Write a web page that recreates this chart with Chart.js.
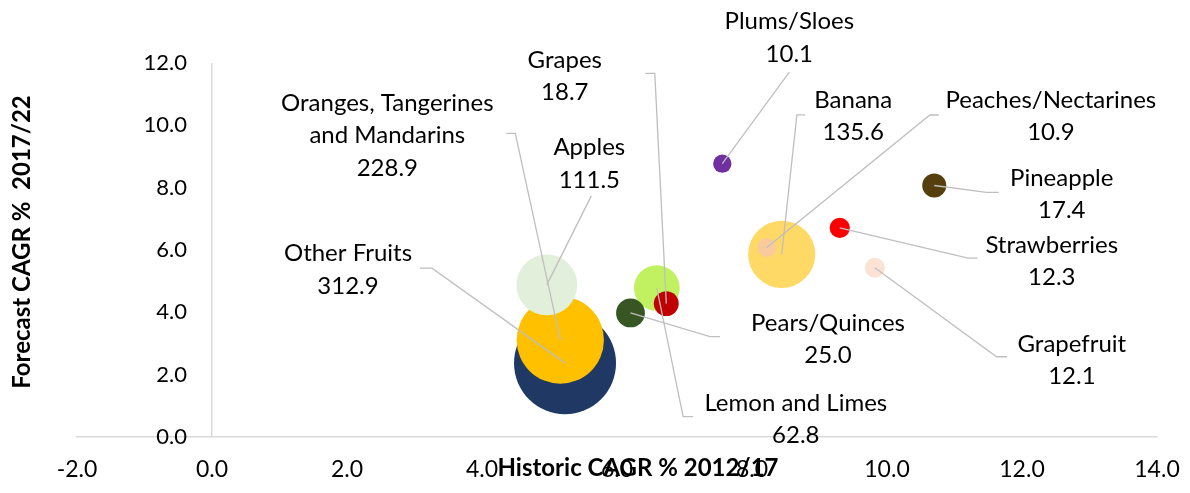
<!DOCTYPE html>
<html>
<head>
<meta charset="utf-8">
<script src="https://cdn.jsdelivr.net/npm/chart.js@4.4.1/dist/chart.umd.min.js"></script>
<style>
  html, body { margin: 0; padding: 0; background: #ffffff; overflow: hidden; }
  canvas { display: block; }
</style>
</head>
<body>
<canvas id="chart" width="1190" height="493"></canvas>
<script>
// ---------- data ----------
const categories = [
  'Other Fruits',
  'Oranges, Tangerines and Mandarins',
  'Apples',
  'Lemon and Limes',
  'Grapes',
  'Pears/Quinces',
  'Banana',
  'Peaches/Nectarines',
  'Plums/Sloes',
  'Strawberries',
  'Pineapple',
  'Grapefruit'
];
const historicCagr = [5.23, 5.16, 4.96, 6.59, 6.73, 6.20, 8.44, 8.22, 7.56, 9.30, 10.70, 9.82];
const forecastCagr = [2.37, 3.11, 4.88, 4.78, 4.28, 3.98, 5.86, 6.08, 8.77, 6.71, 8.07, 5.43];
const marketSize   = [312.9, 228.9, 111.5, 62.8, 18.7, 25.0, 135.6, 10.9, 10.1, 12.3, 17.4, 12.1];
const xTickValues  = [-2, 0, 2, 4, 6, 8, 10, 12, 14];
const yTickValues  = [0, 2, 4, 6, 8, 10, 12];
const xAxisTitle = 'Historic CAGR % 2012/17';
const yAxisTitle = 'Forecast CAGR %  2017/22';

// ---------- styles ----------
const bubbleColors = ['#1F3864', '#FFC000', '#E2EFDA', '#C1F060', '#C00000', '#375623',
                      '#FFD966', '#F9CB9C', '#7030A0', '#FF0000', '#553F0F', '#FBE2D5'];
const MAX_RADIUS = 51;           // pixel radius of the largest bubble
const FONT = 'Lato, "Open Sans", sans-serif';

// label placement: text-block centre and leader path, as pixel offsets from the bubble centre
const labelLayout = [
  { dx: -217,  dy: -93.5,  lead: [[-145, -95], [-133, -95]] },
  { dx: -173,  dy: -204.5, lead: [[-54, -206.7], [-45, -206.7]] },
  { dx: 42.5,  dy: -121,   lead: [[44.5, -89]] },
  { dx: 139,   dy: 131,    lead: [[36.3, 128.7], [26.3, 128.7]] },
  { dx: -101.5,dy: -227.5, lead: [[-20.8, -230.2], [-11.5, -230.2]] },
  { dx: 197.5, dy: 26.5,   lead: [[89.5, 23.7], [79.5, 23.7]] },
  { dx: 71.5,  dy: -138,   lead: [[23.5, -139.5], [15.2, -139.5]] },
  { dx: 284,   dy: -131,   lead: [[172, -132.5], [163, -132.5]] },
  { dx: 67,    dy: -126,   lead: [[67, -91.5]] },
  { dx: 212,   dy: 33.5,   lead: [[137.7, 30.3], [128.3, 30.3]] },
  { dx: 127.5, dy: 9,      lead: [[64.5, 6.8], [52.2, 6.8]] },
  { dx: 197,   dy: 92.3,   lead: [[132.3, 89], [121.7, 89]] }
];

const maxSize = Math.max(...marketSize);
const points = categories.map((c, i) => ({
  x: historicCagr[i],
  y: forecastCagr[i],
  r: MAX_RADIUS * Math.sqrt(marketSize[i] / maxSize)
}));

function wrapText(ctx, text, maxWidth) {
  const words = text.split(' ');
  const lines = [];
  let cur = '';
  words.forEach(w => {
    const test = cur ? cur + ' ' + w : w;
    if (cur && ctx.measureText(test).width > maxWidth) { lines.push(cur); cur = w; }
    else cur = test;
  });
  if (cur) lines.push(cur);
  return lines;
}

const labelPlugin = {
  id: 'bubbleLabels',
  afterDatasetsDraw(chart) {
    const ctx = chart.ctx;
    const meta = chart.getDatasetMeta(0);
    ctx.save();
    meta.data.forEach((el, i) => {
      const L = labelLayout[i];
      const px = el.x, py = el.y;
      ctx.strokeStyle = '#BFBFBF';
      ctx.lineWidth = 1.3;
      ctx.beginPath();
      ctx.moveTo(px + L.lead[0][0], py + L.lead[0][1]);
      for (let k = 1; k < L.lead.length; k++) ctx.lineTo(px + L.lead[k][0], py + L.lead[k][1]);
      ctx.lineTo(px, py);
      ctx.stroke();
    });
    meta.data.forEach((el, i) => {
      const L = labelLayout[i];
      ctx.font = '24px ' + FONT;
      ctx.fillStyle = '#000000';
      ctx.textAlign = 'center';
      ctx.textBaseline = 'middle';
      const lines = wrapText(ctx, categories[i], 250).concat([marketSize[i].toFixed(1)]);
      const lh = 32.5;
      const cx = el.x + L.dx, cy = el.y + L.dy;
      lines.forEach((t, k) => {
        ctx.fillText(t, cx, cy + (k - (lines.length - 1) / 2) * lh);
      });
    });
    ctx.restore();
  }
};

const titlePlugin = {
  id: 'axisTitles',
  afterDraw(chart) {
    const ctx = chart.ctx;
    ctx.save();
    ctx.fillStyle = '#000000';
    ctx.font = 'bold 24px ' + FONT;
    ctx.textAlign = 'center';
    ctx.textBaseline = 'middle';
    ctx.fillText(xAxisTitle, 638, 468);
    ctx.translate(22.5, 242);
    ctx.rotate(-Math.PI / 2);
    ctx.fillText(yAxisTitle, 0, 0);
    ctx.restore();
  }
};

function draw() {
  new Chart(document.getElementById('chart'), {
    type: 'bubble',
    data: {
      datasets: [{
        label: 'Fruits',
        data: points,
        backgroundColor: bubbleColors,
        borderWidth: 0,
        hoverBorderWidth: 0,
        clip: false
      }]
    },
    options: {
      responsive: false,
      animation: false,
      events: [],
      layout: { autoPadding: false, padding: { left: 77, right: 33, top: 63, bottom: 0 } },
      plugins: { legend: { display: false }, tooltip: { enabled: false } },
      scales: {
        x: {
          type: 'linear',
          position: 'bottom',
          min: -2, max: 14,
          afterBuildTicks: s => { s.ticks = xTickValues.map(v => ({ value: v })); },
          afterFit: s => { s.height = 56; },
          grid: {
            display: true,
            drawTicks: false,
            lineWidth: 1.5,
            color: c => (c.tick && c.tick.value === 0) ? '#D9D9D9' : 'rgba(0,0,0,0)'
          },
          border: { display: true, color: '#D9D9D9', width: 1.5 },
          ticks: {
            padding: 0,
            color: '#000000',
            font: { family: FONT, size: 23, lineHeight: '66px' },
            maxRotation: 0,
            callback: v => Number(v).toFixed(1)
          }
        },
        y: {
          type: 'linear',
          position: { x: -0.37 },
          min: 0, max: 12,
          afterBuildTicks: s => { s.ticks = yTickValues.map(v => ({ value: v })); },
          grid: { display: false },
          border: { display: false },
          ticks: {
            padding: 0,
            color: '#000000',
            font: { family: FONT, size: 22 },
            callback: v => Number(v).toFixed(1)
          }
        }
      }
    },
    plugins: [labelPlugin, titlePlugin]
  });
}

const fontsReady = document.fonts && document.fonts.load
  ? Promise.all([document.fonts.load('24px Lato'), document.fonts.load('bold 24px Lato')])
  : Promise.resolve();
let done = false;
function go() { if (!done) { done = true; draw(); } }
fontsReady.then(go, go);
setTimeout(go, 1500);
</script>
</body>
</html>
